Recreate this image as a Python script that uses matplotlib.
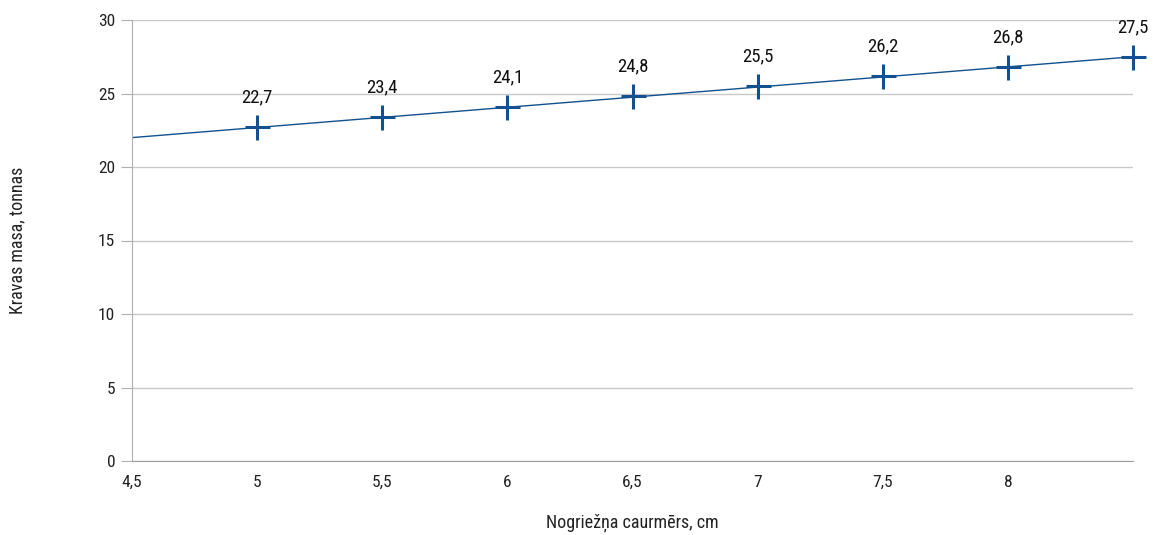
import matplotlib
matplotlib.use("Agg")
import matplotlib.pyplot as plt
from matplotlib import font_manager

x_vals = [5, 5.5, 6, 6.5, 7, 7.5, 8, 8.5]
y_vals = [22.7, 23.4, 24.1, 24.8, 25.5, 26.2, 26.8, 27.5]
trend_x = [4.5, 8.5]
trend_y = [22.0, 27.5]
x_ticks = [4.5, 5, 5.5, 6, 6.5, 7, 7.5, 8]
x_tick_labels = ["4,5", "5", "5,5", "6", "6,5", "7", "7,5", "8"]
y_ticks = [0, 5, 10, 15, 20, 25, 30]
x_label = "Nogriežņa caurmērs, cm"
y_label = "Kravas masa, tonnas"

names = {f.name for f in font_manager.fontManager.ttflist}
fam = [f for f in ["Roboto Condensed", "Liberation Sans Narrow", "Noto Sans"] if f in names] + ["DejaVu Sans"]
plt.rcParams['font.family'] = fam

color = "#12508f"
fig = plt.figure(figsize=(11.53, 5.35), dpi=100)
ax = fig.add_axes([132/1153, 1 - 461/535, (1133-132)/1153, (461-20)/535])
ax.set_xlim(4.5, 8.5)
ax.set_ylim(0, 30)
ax.plot(trend_x, trend_y, color=color, lw=1.0, zorder=2)
ax.plot(x_vals, y_vals, linestyle='none', marker='+', markersize=18, mew=2.2, color=color, zorder=3, clip_on=False)
for xv, yv in zip(x_vals, y_vals):
    ax.annotate(f"{yv:.1f}".replace('.', ','), (xv, yv), xytext=(0, 15), textcoords='offset points',
                ha='center', va='bottom', fontsize=13.5, color='#111111')
ax.set_xticks(x_ticks)
ax.set_xticklabels(x_tick_labels)
ax.set_yticks(y_ticks)
ax.grid(axis='y', color='#c8c8c8', lw=1)
ax.set_axisbelow(True)
for s in ['top', 'right']:
    ax.spines[s].set_visible(False)
ax.spines['left'].set_color('#b0b0b0')
ax.spines['bottom'].set_color('#a0a0a0')
ax.tick_params(axis='y', length=8, labelsize=12.5, pad=4)
ax.tick_params(axis='x', length=0, labelsize=12.5, pad=10)
ax.tick_params(axis='y', colors='#b0b0b0', labelcolor='#222222')
ax.tick_params(axis='x', labelcolor='#222222')
ax.set_xlabel(x_label, fontsize=13, labelpad=17, color='#222222')
ax.set_ylabel(y_label, fontsize=13, labelpad=52, color='#222222')
fig.savefig("out.png", dpi=100)
